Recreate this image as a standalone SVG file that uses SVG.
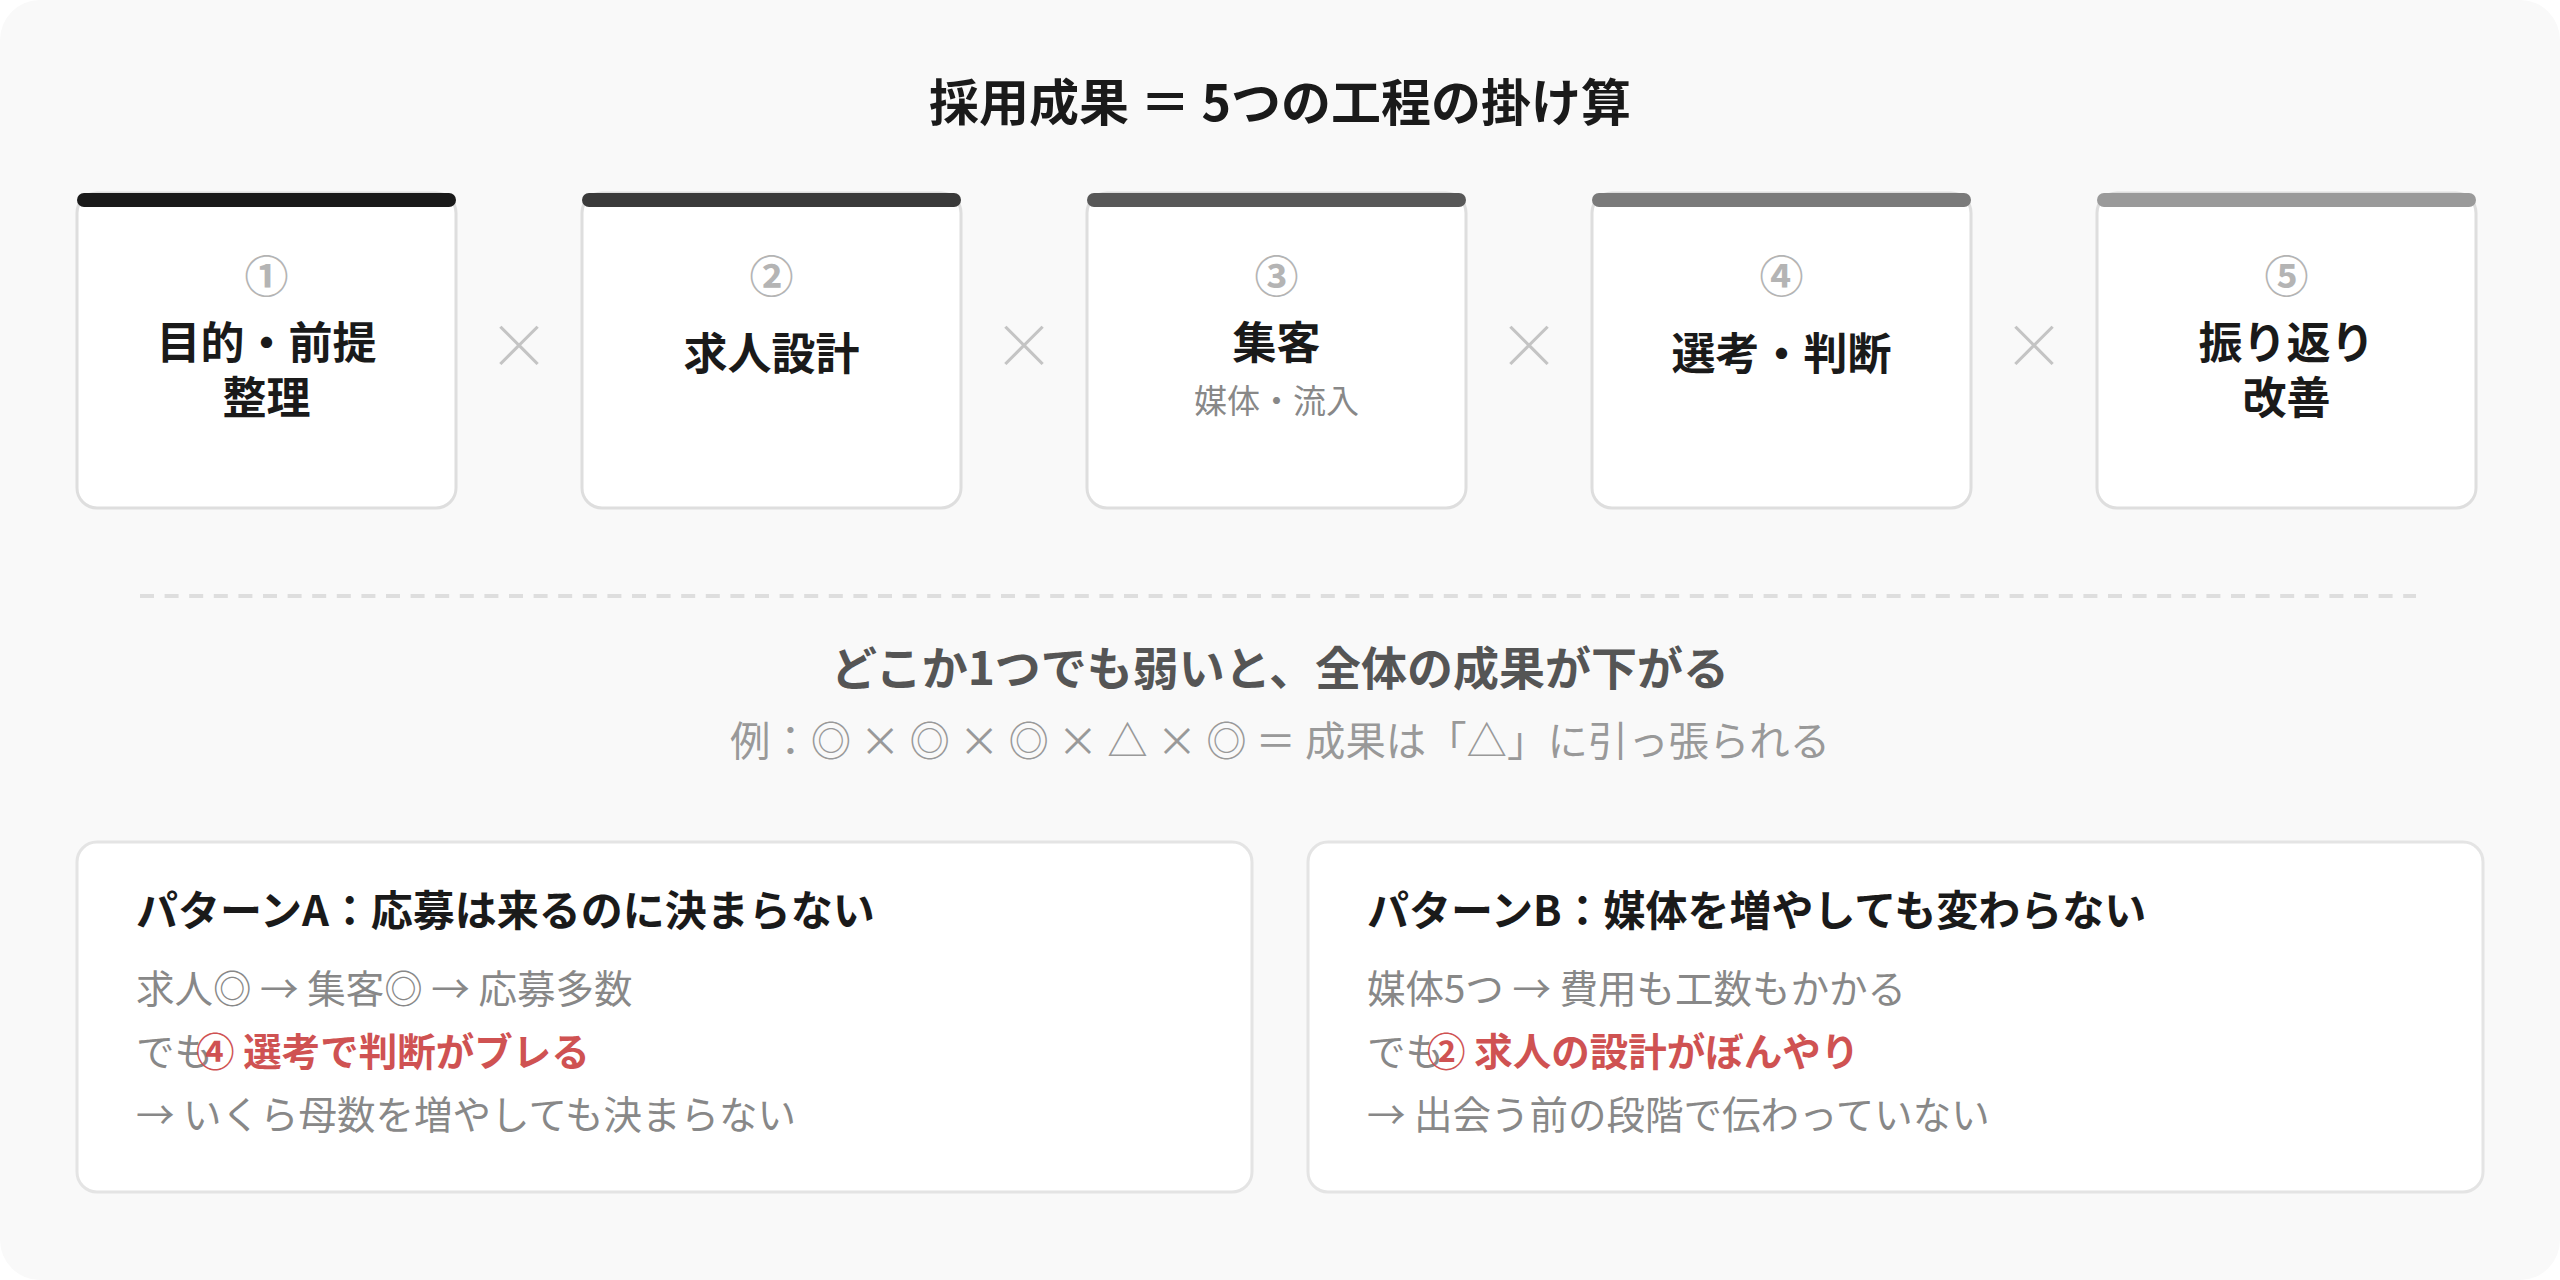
<svg xmlns="http://www.w3.org/2000/svg" width="2560" height="1280" viewBox="0 0 2560 1280">
<style>
text{font-family:"Noto Sans CJK JP","Noto Sans",sans-serif}
.ttl{font-size:50px;font-weight:700;fill:#1a1a1a}
.num{font-size:44px;font-weight:700;fill:#b4b4b4}
.ct{font-size:44px;font-weight:700;fill:#1a1a1a}
.sub{font-size:33px;font-weight:400;fill:#888}
.x{font-size:62px;font-weight:300;fill:#c4c4c4}
.card{fill:#fff;stroke:#dedede;stroke-width:3}
.msg{font-size:46px;font-weight:700;fill:#555}
.ex{font-size:40.4px;font-weight:400;fill:#999}
.panel{fill:#fff;stroke:#e4e4e4;stroke-width:3}
.pt{font-size:42px;font-weight:700;fill:#1a1a1a}
.pb{font-size:38.5px;font-weight:400;fill:#888}
.red{font-weight:700;fill:#cf5252}
</style>
<rect x="0" y="0" width="2560" height="1280" fill="#ffffff"/>
<rect x="0" y="0" width="2560" height="1280" rx="40" fill="#f9f9f9"/>
<text class="ttl" x="1280" y="121" text-anchor="middle">採用成果 ＝ 5つの工程の掛け算</text>

<g id="card1">
<rect class="card" x="77" y="193" width="379" height="315" rx="20"/>
<rect x="77" y="193" width="379" height="14" rx="7" fill="#1a1a1a"/>
<text class="num" x="266.5" y="293" text-anchor="middle">①</text>
<text class="ct" x="266.5" y="359" text-anchor="middle">目的・前提</text>
<text class="ct" x="266.5" y="414" text-anchor="middle">整理</text>
</g>
<g id="card2">
<rect class="card" x="582" y="193" width="379" height="315" rx="20"/>
<rect x="582" y="193" width="379" height="14" rx="7" fill="#3a3a3a"/>
<text class="num" x="771.5" y="293" text-anchor="middle">②</text>
<text class="ct" x="771.5" y="370" text-anchor="middle">求人設計</text>
</g>
<g id="card3">
<rect class="card" x="1087" y="193" width="379" height="315" rx="20"/>
<rect x="1087" y="193" width="379" height="14" rx="7" fill="#585858"/>
<text class="num" x="1276.5" y="293" text-anchor="middle">③</text>
<text class="ct" x="1276.5" y="359" text-anchor="middle">集客</text>
<text class="sub" x="1276.5" y="413" text-anchor="middle">媒体・流入</text>
</g>
<g id="card4">
<rect class="card" x="1592" y="193" width="379" height="315" rx="20"/>
<rect x="1592" y="193" width="379" height="14" rx="7" fill="#7a7a7a"/>
<text class="num" x="1781.5" y="293" text-anchor="middle">④</text>
<text class="ct" x="1781.5" y="370" text-anchor="middle">選考・判断</text>
</g>
<g id="card5">
<rect class="card" x="2097" y="193" width="379" height="315" rx="20"/>
<rect x="2097" y="193" width="379" height="14" rx="7" fill="#9a9a9a"/>
<text class="num" x="2286.5" y="293" text-anchor="middle">⑤</text>
<text class="ct" x="2286.5" y="359" text-anchor="middle">振り返り</text>
<text class="ct" x="2286.5" y="414" text-anchor="middle">改善</text>
</g>

<g id="connectors">
<text class="x" x="519" y="369" text-anchor="middle">×</text>
<text class="x" x="1024" y="369" text-anchor="middle">×</text>
<text class="x" x="1529" y="369" text-anchor="middle">×</text>
<text class="x" x="2034" y="369" text-anchor="middle">×</text>
</g>

<line x1="140" y1="596" x2="2416" y2="596" stroke="#dedede" stroke-width="4" stroke-dasharray="14 10.6"/>

<text class="msg" x="1280" y="685" text-anchor="middle">どこか1つでも弱いと、全体の成果が下がる</text>
<text class="ex" x="1280" y="756" text-anchor="middle">例：◎ × ◎ × ◎ × △ × ◎ ＝ 成果は「△」に引っ張られる</text>

<g id="panelA">
<rect class="panel" x="77" y="842" width="1175" height="350" rx="20"/>
<text class="pt" x="136" y="926">パターンA：応募は来るのに決まらない</text>
<text class="pb" x="136" y="1003">求人◎ → 集客◎ → 応募多数</text>
<text class="pb" x="136" y="1066">でも<tspan class="red" dx="-17">④ 選考で判断がブレる</tspan></text>
<text class="pb" x="136" y="1129">→ いくら母数を増やしても決まらない</text>
</g>
<g id="panelB">
<rect class="panel" x="1308" y="842" width="1175" height="350" rx="20"/>
<text class="pt" x="1367" y="926">パターンB：媒体を増やしても変わらない</text>
<text class="pb" x="1367" y="1003">媒体5つ → 費用も工数もかかる</text>
<text class="pb" x="1367" y="1066">でも<tspan class="red" dx="-17">② 求人の設計がぼんやり</tspan></text>
<text class="pb" x="1367" y="1129">→ 出会う前の段階で伝わっていない</text>
</g>
</svg>
